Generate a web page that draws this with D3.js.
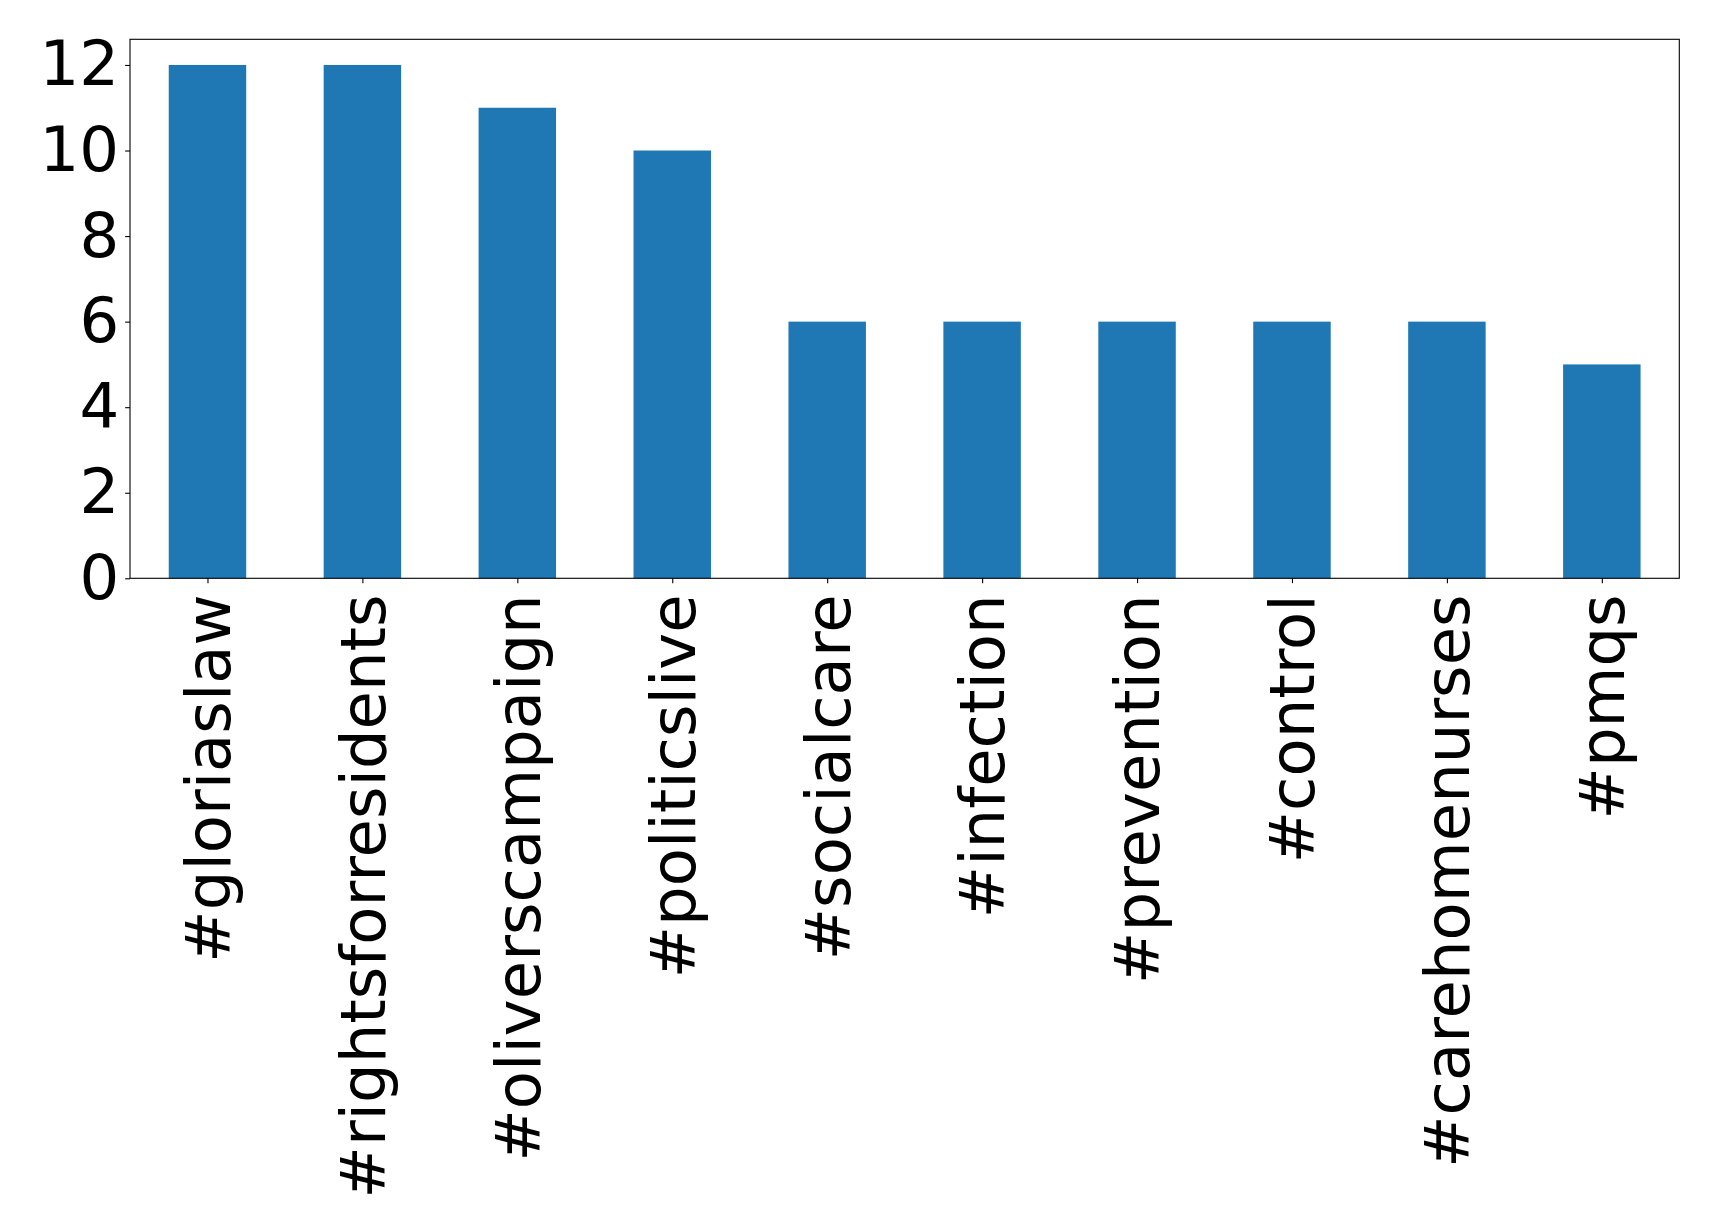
<!DOCTYPE html>
<html><head><meta charset="utf-8">
<script src="https://cdn.jsdelivr.net/npm/d3@7"></script>
<style>body{margin:0;background:#fff}svg{display:block}text{font-family:"DejaVu Sans",sans-serif}</style>
</head><body><svg id="c" width="1719" height="1232"></svg>
<script>
const categories = ["#gloriaslaw","#rightsforresidents","#oliverscampaign","#politicslive","#socialcare","#infection","#prevention","#control","#carehomenurses","#pmqs"];
const values = [12,12,11,10,6,6,6,6,6,5];
const yTicks = [0,2,4,6,8,10,12];

const svg = d3.select("#c");
const L=130, T=39.3, R=1679.3, B=578.3;
const x = d3.scaleLinear().domain([-0.5, categories.length-0.5]).range([L,R]);
const y = d3.scaleLinear().domain([0, 12.6]).range([B,T]);
const fs = 62.5;

svg.append("g").selectAll("rect").data(values).join("rect")
  .attr("x",(d,i)=>x(i-0.25)).attr("width",x(0.25)-x(-0.25))
  .attr("y",d=>y(d)).attr("height",d=>B-y(d)).attr("fill","#1f77b4");

const ya = svg.append("g").attr("transform",`translate(${L},0)`)
  .call(d3.axisLeft(y).tickValues(yTicks).tickSize(4.86).tickPadding(6).tickFormat(d3.format("d")));
ya.select(".domain").remove();
ya.selectAll("line").attr("stroke","#000").attr("stroke-width",1.1);
ya.selectAll("text").attr("font-size",fs).attr("fill","#000").attr("font-family","DejaVu Sans");

const xa = svg.append("g").attr("transform",`translate(0,${B})`)
  .call(d3.axisBottom(x).tickValues(d3.range(categories.length)).tickSize(4.86).tickFormat(i=>categories[i]));
xa.select(".domain").remove();
xa.selectAll("line").attr("stroke","#000").attr("stroke-width",1.1);
xa.selectAll("text").attr("font-size",fs).attr("fill","#000").attr("font-family","DejaVu Sans")
  .attr("transform","translate(0,16) rotate(-90)").attr("text-anchor","end")
  .attr("x",0).attr("y",0).attr("dy","0.35em");

svg.append("rect").attr("x",L).attr("y",T).attr("width",R-L).attr("height",B-T)
  .attr("fill","none").attr("stroke","#000").attr("stroke-width",1.1);
</script></body></html>
